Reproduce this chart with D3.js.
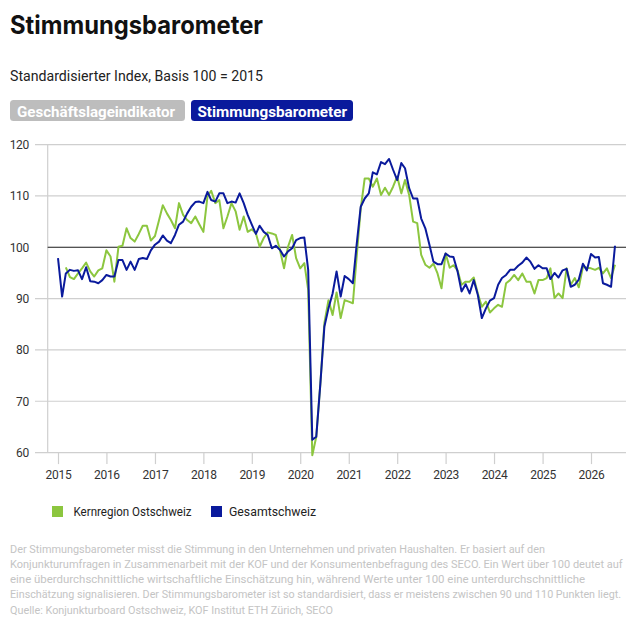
<!DOCTYPE html>
<html>
<head>
<meta charset="utf-8">
<script src="https://cdn.jsdelivr.net/npm/d3@7"></script>
<style>
  html, body { margin: 0; padding: 0; background: #fff; }
  svg { display: block; }
  text { font-family: Roboto, "Liberation Sans", sans-serif; }
</style>
</head>
<body>
<svg id="chart" width="636" height="630"></svg>
<script>
// ---------------- data ----------------
const startYear = 2015;
const startMonth = 0; // January 2015, monthly values

const gesamtschweiz = [
  97.9, 90.4, 94.9, 95.6, 95.4, 95.5, 93.8, 96.1, 93.4, 93.3, 93.0, 93.6,
  94.6, 94.3, 94.3, 97.5, 97.5, 95.6, 97.2, 95.6, 97.7, 97.9, 97.7, 99.4,
  100.5, 101.1, 102.3, 101.3, 100.8, 102.4, 104.4, 105.0, 106.6, 107.9, 108.8, 108.9,
  108.6, 110.8, 109.2, 108.9, 110.5, 110.5, 108.6, 108.9, 108.7, 110.5, 108.6, 106.3,
  104.4, 102.6, 104.2, 103.0, 102.4, 99.8, 100.3, 99.5, 98.2, 99.2, 99.8, 101.4,
  101.8, 101.9, 95.6, 62.5, 63.1, 73.5, 84.5, 88.1, 91.0, 95.3, 90.4, 94.4,
  93.8, 93.0, 100.4, 107.9, 109.5, 110.5, 114.6, 114.2, 116.6, 116.2, 117.2, 115.1,
  113.1, 116.4, 115.4, 111.5, 109.5, 109.5, 105.6, 103.7, 100.5, 97.2, 96.7, 96.7,
  98.8, 98.2, 98.1, 95.3, 91.4, 92.8, 91.0, 93.6, 90.7, 86.2, 88.1, 89.6,
  90.1, 92.7, 94.0, 94.6, 95.6, 95.6, 96.4, 97.0, 98.0, 97.2, 95.8, 96.5,
  95.9, 95.9, 93.8, 95.0, 94.1, 95.5, 95.8, 92.3, 92.7, 93.7, 96.8, 95.5,
  98.7, 98.0, 98.1, 93.0, 92.7, 92.3, 100.3
];

const kernregionOstschweiz = [
  null, null, 96.1, 94.2, 93.8, 94.9, 95.9, 97.0, 95.3, 94.3, 95.5, 95.9,
  99.4, 98.2, 93.3, 100.1, 100.3, 103.7, 101.8, 101.1, 102.6, 104.2, 104.2, 101.3,
  102.2, 105.3, 108.2, 106.6, 105.3, 103.7, 108.6, 106.3, 105.3, 104.7, 106.0, 104.5,
  103.0, 109.9, 111.0, 108.6, 109.2, 103.7, 106.0, 108.6, 107.0, 103.4, 106.0, 103.0,
  103.5, 102.7, 100.1, 101.8, 102.9, 102.7, 102.4, 99.5, 95.9, 100.1, 102.4, 97.9,
  95.9, 96.9, 91.7, 59.5, 63.1, 73.5, 85.2, 89.7, 86.8, 91.2, 86.2, 89.7,
  89.4, 89.1, 98.0, 107.5, 113.4, 113.4, 111.8, 113.4, 110.2, 111.6, 110.2, 111.8,
  113.8, 110.5, 113.1, 110.2, 105.0, 104.7, 98.5, 96.6, 96.0, 96.8, 94.9, 92.0,
  98.8, 96.0, 96.5, 95.5, 92.7, 93.3, 93.3, 94.1, 91.0, 88.4, 89.4, 87.3,
  88.1, 88.8, 88.4, 93.0, 93.6, 94.6, 93.6, 94.9, 93.3, 93.3, 91.0, 93.6,
  93.6, 94.0, 95.9, 90.1, 91.0, 90.1, 95.9, 92.7, 94.0, 92.2, 96.2, 96.0,
  95.9, 95.6, 96.0, 94.9, 95.9, 94.0, 96.6
];

const yTickValues = [60, 70, 80, 90, 100, 110, 120];
const xTickYears = [2015, 2016, 2017, 2018, 2019, 2020, 2021, 2022, 2023, 2024, 2025, 2026];
const seriesNames = ["Kernregion Ostschweiz", "Gesamtschweiz"];
const buttonLabels = ["Geschäftslageindikator", "Stimmungsbarometer"];
const titleText = "Stimmungsbarometer";
const subtitleText = "Standardisierter Index, Basis 100 = 2015";
const noteLines = [
  "Der Stimmungsbarometer misst die Stimmung in den Unternehmen und privaten Haushalten. Er basiert auf den",
  "Konjunkturumfragen in Zusammenarbeit mit der KOF und der Konsumentenbefragung des SECO. Ein Wert über 100 deutet auf",
  "eine überdurchschnittliche wirtschaftliche Einschätzung hin, während Werte unter 100 eine unterdurchschnittliche",
  "Einschätzung signalisieren. Der Stimmungsbarometer ist so standardisiert, dass er meistens zwischen 90 und 110 Punkten liegt."
];
const sourceText = "Quelle: Konjunkturboard Ostschweiz, KOF Institut ETH Zürich, SECO";

// ---------------- styles ----------------
const GREEN = "#8cc63f";
const BLUE = "#0a1a9c";
const GRID = "#cfcfcf";
const NOTE = "#c4c4c4";

const svg = d3.select("#chart");

// helper: constrain text to a measured width
function fit(sel, w) {
  const n = sel.node();
  const len = n.getComputedTextLength();
  if (Math.abs(len - w) > 1.5) {
    sel.attr("textLength", w).attr("lengthAdjust", "spacingAndGlyphs");
  }
  return sel;
}

// ---------------- header ----------------
fit(svg.append("text").attr("x", 10).attr("y", 34)
  .attr("font-size", 25).attr("font-weight", 700).attr("fill", "#111")
  .style("font-family", "Inter, Roboto, sans-serif")
  .text(titleText), 253);

fit(svg.append("text").attr("x", 10).attr("y", 81)
  .attr("font-size", 15.5).attr("fill", "#222")
  .text(subtitleText), 253);

const buttons = [
  { label: buttonLabels[0], x: 10, w: 175, fill: "#bdbdbd", tx: 17, tw: 158 },
  { label: buttonLabels[1], x: 191, w: 162, fill: BLUE, tx: 197.5, tw: 149.5 }
];
buttons.forEach(b => {
  svg.append("rect").attr("x", b.x).attr("y", 100).attr("width", b.w).attr("height", 21)
    .attr("rx", 3.5).attr("fill", b.fill);
  fit(svg.append("text").attr("x", b.tx).attr("y", 116.5)
    .attr("font-size", 15.5).attr("font-weight", 700).attr("fill", "#fff")
    .text(b.label), b.tw);
});

// ---------------- scales ----------------
const dates = gesamtschweiz.map((_, i) => new Date(startYear, startMonth + i, 1));
const x = d3.scaleTime()
  .domain([new Date(2015, 0, 1), new Date(2026, 0, 1)])
  .range([58, 591]);
const y = d3.scaleLinear().domain([60, 120]).range([452.6, 144.6]);

const plotLeft = 47.7, plotRight = 626, gridLeft = 35;

// gridlines
const grid = svg.append("g");
grid.selectAll("line").data(yTickValues.filter(v => v !== 100)).join("line")
  .attr("x1", gridLeft).attr("x2", plotRight)
  .attr("y1", d => y(d)).attr("y2", d => y(d))
  .attr("stroke", GRID).attr("stroke-width", 1.2);

// left axis line
svg.append("line").attr("x1", plotLeft).attr("x2", plotLeft)
  .attr("y1", y(120)).attr("y2", y(60)).attr("stroke", GRID).attr("stroke-width", 1.2);

// y labels via axis
const yAxis = d3.axisLeft(y).tickValues(yTickValues).tickSize(0).tickPadding(0);
const gy = svg.append("g").attr("transform", "translate(29,0)").call(yAxis);
gy.select(".domain").remove();
gy.selectAll("text").attr("font-size", 12).attr("fill", "#333")
  .style("font-family", "Roboto, sans-serif").attr("letter-spacing", -0.3);

// x axis
const xAxis = d3.axisBottom(x)
  .tickValues(xTickYears.map(yr => new Date(yr, 0, 1)))
  .tickFormat(d3.timeFormat("%Y"))
  .tickSize(11.5).tickPadding(6);
const gx = svg.append("g").attr("transform", `translate(0,${y(60)})`).call(xAxis);
gx.select(".domain").remove();
gx.selectAll(".tick line").attr("stroke", GRID).attr("stroke-width", 1.2);
gx.selectAll("text").attr("font-size", 12).attr("fill", "#333")
  .style("font-family", "Roboto, sans-serif").attr("letter-spacing", -0.3);

// 100 baseline
svg.append("line").attr("x1", plotLeft).attr("x2", plotRight)
  .attr("y1", y(100)).attr("y2", y(100)).attr("stroke", "#1a1a1a").attr("stroke-width", 1.2);

// ---------------- lines ----------------
const line = d3.line()
  .defined(d => d.v != null)
  .x(d => x(d.date))
  .y(d => y(d.v));

const greenData = kernregionOstschweiz.map((v, i) => ({ date: dates[i], v }));
const blueData = gesamtschweiz.map((v, i) => ({ date: dates[i], v }));

svg.append("path").datum(greenData).attr("d", line)
  .attr("fill", "none").attr("stroke", GREEN).attr("stroke-width", 2)
  .attr("stroke-linejoin", "round");
svg.append("path").datum(blueData).attr("d", line)
  .attr("fill", "none").attr("stroke", BLUE).attr("stroke-width", 2)
  .attr("stroke-linejoin", "round");

// ---------------- legend ----------------
const legendItems = [
  { name: seriesNames[0], color: GREEN, sx: 52, tx: 73.5, tw: 118 },
  { name: seriesNames[1], color: BLUE, sx: 211, tx: 229, tw: 87 }
];
legendItems.forEach(l => {
  svg.append("rect").attr("x", l.sx).attr("y", 506).attr("width", 11).attr("height", 11)
    .attr("fill", l.color);
  fit(svg.append("text").attr("x", l.tx).attr("y", 516)
    .attr("font-size", 12.5).attr("fill", "#222").text(l.name), l.tw);
});

// ---------------- notes ----------------
const noteWidths = [535, 612, 575, 611];
noteLines.forEach((t, i) => {
  fit(svg.append("text").attr("x", 10).attr("y", 553 + i * 15)
    .attr("font-size", 11).attr("fill", NOTE).text(t), noteWidths[i]);
});
fit(svg.append("text").attr("x", 10).attr("y", 614)
  .attr("font-size", 11).attr("fill", NOTE).text(sourceText), 323);
</script>
</body>
</html>
